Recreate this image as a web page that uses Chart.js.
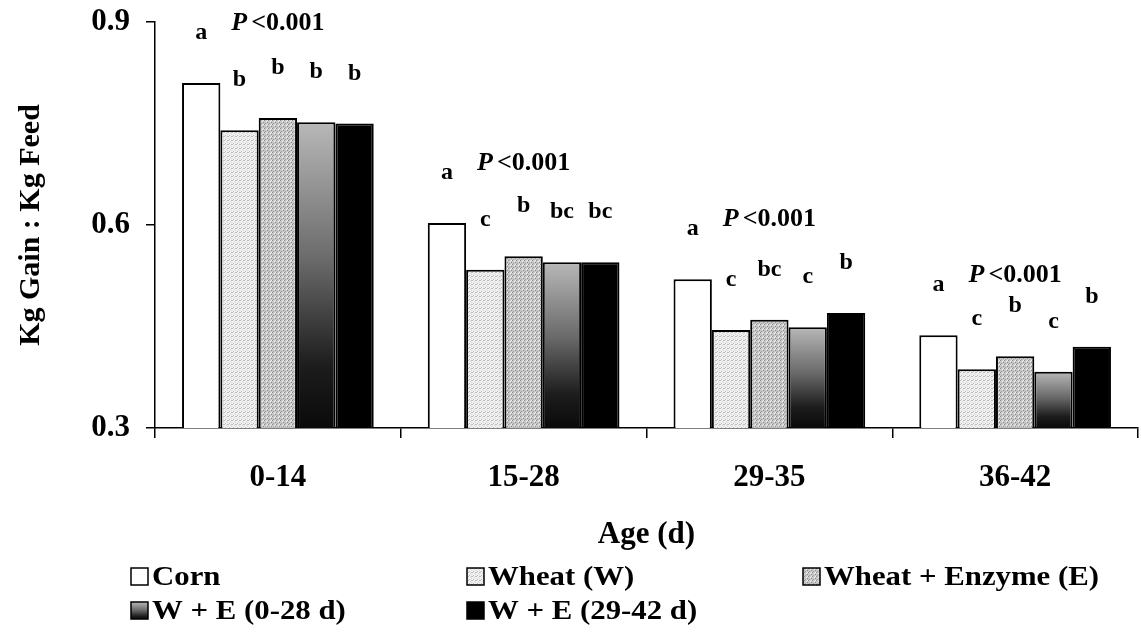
<!DOCTYPE html>
<html lang="en">
  <head>
    <meta charset="UTF-8" />
    <title>Kg Gain : Kg Feed</title>
    <style>
      body {
        margin: 0;
        background: #fff;
      }
      .wrap {
        width: 1141px;
        height: 632px;
      }
    </style>
  </head>
  <body>
    <script src="https://cdn.jsdelivr.net/npm/chart.js@4.4.1/dist/chart.umd.min.js"></script>

    <div class="wrap">
      <canvas id="bar-chart" width="1141" height="632"></canvas>
    </div>
    <script>
      const ages = ["0-14", "15-28", "29-35", "36-42"];
      const yTicks = [0.3, 0.6, 0.9];

      const corn = [0.81, 0.603, 0.52, 0.437];
      const wheat = [0.74, 0.534, 0.445, 0.387];
      const wheatEnz = [0.758, 0.554, 0.46, 0.406];
      const we028 = [0.752, 0.545, 0.449, 0.383];
      const we2942 = [0.75, 0.545, 0.47, 0.42];

      // significance letters per bar
      const cornSig = ["a", "a", "a", "a"];
      const wheatSig = ["b", "c", "c", "c"];
      const wheatEnzSig = ["b", "b", "bc", "b"];
      const we028Sig = ["b", "bc", "c", "c"];
      const we2942Sig = ["b", "bc", "b", "b"];
      const pText = ["<0.001", "<0.001", "<0.001", "<0.001"];

      const FONT = "'Liberation Serif', 'Times New Roman', serif";

      function speckle(base, dots) {
        const c = document.createElement("canvas");
        c.width = 4;
        c.height = 4;
        const g = c.getContext("2d");
        g.fillStyle = base;
        g.fillRect(0, 0, 4, 4);
        const spots = [[0, 0], [2, 1], [1, 3], [3, 2], [3, 0]];
        spots.forEach((p, i) => {
          g.fillStyle = dots[i % dots.length];
          g.fillRect(p[0], p[1], 1, 1);
        });
        return g.createPattern(c, "repeat");
      }

      const wheatFill = speckle("#f0f0f0", ["#bcbcbc", "#dadada"]);
      const enzFill = speckle("#c8c8c8", ["#8c8c8c", "#eeeeee", "#a4a4a4"]);

      function darkGrad(c, top, bot) {
        const g = c.createLinearGradient(0, top, 0, bot);
        g.addColorStop(0, "#b8b8b8");
        g.addColorStop(0.45, "#6a6a6a");
        g.addColorStop(0.8, "#1c1c1c");
        g.addColorStop(1, "#0a0a0a");
        return g;
      }

      function we028Fill(ctx) {
        const chart = ctx.chart;
        if (!chart.chartArea || ctx.raw === undefined) return "#666";
        const y = chart.scales.y;
        return darkGrad(chart.ctx, y.getPixelForValue(ctx.raw), y.getPixelForValue(y.min));
      }

      const sigs = [cornSig, wheatSig, wheatEnzSig, we028Sig, we2942Sig];

      const annotate = {
        id: "annotate",
        afterDatasetsDraw(chart) {
          const c = chart.ctx;
          c.save();
          c.fillStyle = "#000";
          c.textAlign = "center";
          c.textBaseline = "middle";
          c.font = "bold 24px " + FONT;
          sigs.forEach((arr, di) => {
            chart.getDatasetMeta(di).data.forEach((bar, j) => {
              c.fillText(arr[j], bar.x, bar.y - 50);
            });
          });
          // P value over each group
          const xs = chart.scales.x;
          ages.forEach((a, j) => {
            let top = Infinity;
            sigs.forEach((arr, di) => {
              top = Math.min(top, chart.getDatasetMeta(di).data[j].y);
            });
            const cx = xs.getPixelForValue(j);
            const cy = top - 60;
            c.font = "bold italic 26px " + FONT;
            const wP = c.measureText("P").width + 4;
            c.font = "bold 26px " + FONT;
            const wR = c.measureText(pText[j]).width;
            const x0 = cx - (wP + wR) / 2;
            c.textAlign = "left";
            c.font = "bold italic 26px " + FONT;
            c.fillText("P", x0, cy);
            c.font = "bold 26px " + FONT;
            c.fillText(pText[j], x0 + wP, cy);
            c.textAlign = "center";
          });

          // legend, 3 columns (text a little wider, like the scan)
          const cols = [131, 467, 803];
          const rows = [577, 611];
          c.font = "bold 28px " + FONT;
          c.textAlign = "left";
          chart.data.datasets.forEach((ds, i) => {
            const x = cols[i % 3];
            const y = rows[Math.floor(i / 3)];
            let fill = ds.backgroundColor;
            if (typeof fill === "function") fill = darkGrad(c, y - 9, y + 9);
            c.fillStyle = fill;
            c.fillRect(x, y - 9, 17, 17);
            c.strokeStyle = "#000";
            c.lineWidth = 1.5;
            c.strokeRect(x, y - 9, 17, 17);
            c.fillStyle = "#000";
            c.save();
            c.translate(x + 21, y + 1);
            c.scale(1.1, 1);
            c.fillText(ds.label, 0, 0);
            c.restore();
          });
          c.restore();
        }
      };

      new Chart(document.getElementById("bar-chart"), {
        type: "bar",
        data: {
          labels: ages,
          datasets: [
            { label: "Corn", data: corn, backgroundColor: "#ffffff" },
            { label: "Wheat (W)", data: wheat, backgroundColor: wheatFill },
            { label: "Wheat + Enzyme (E)", data: wheatEnz, backgroundColor: enzFill },
            { label: "W + E (0-28 d)", data: we028, backgroundColor: we028Fill },
            { label: "W + E (29-42 d)", data: we2942, backgroundColor: "#000000" }
          ]
        },
        options: {
          responsive: false,
          animation: false,
          layout: { padding: { left: 13, top: 22, right: 3, bottom: 78 } },
          datasets: {
            bar: {
              borderColor: "#000",
              borderWidth: 2,
              categoryPercentage: 0.78,
              barPercentage: 1.0
            }
          },
          plugins: {
            legend: { display: false },
            tooltip: { enabled: false }
          },
          scales: {
            x: {
              grid: {
                display: true,
                drawOnChartArea: false,
                offset: true,
                color: "#000",
                lineWidth: 1.5,
                tickLength: 10
              },
              border: { display: true, color: "#000", width: 1.5 },
              ticks: {
                color: "#000",
                padding: 21,
                font: { family: FONT, size: 31, weight: "bold" }
              },
              title: {
                display: true,
                text: "Age (d)",
                color: "#000",
                padding: { top: 0, bottom: 0 },
                font: { family: FONT, size: 31, weight: "bold" }
              },
              afterFit(scale) {
                scale.height = 126;
              }
            },
            y: {
              min: 0.3,
              max: 0.9,
              afterBuildTicks(scale) {
                scale.ticks = yTicks.map(v => ({ value: v }));
              },
              grid: {
                display: true,
                drawOnChartArea: false,
                color: "#000",
                lineWidth: 1.5,
                tickLength: 9
              },
              border: { display: true, color: "#000", width: 1.5 },
              ticks: {
                color: "#000",
                padding: 16,
                callback: v => v.toFixed(1),
                font: { family: FONT, size: 31, weight: "bold" }
              },
              title: {
                display: true,
                text: "Kg Gain : Kg Feed",
                color: "#000",
                padding: { top: 0, bottom: 0 },
                font: { family: FONT, size: 30, weight: "bold" }
              },
              afterFit(scale) {
                scale.width = 142;
                scale.paddingTop = 0;
                scale.paddingBottom = 0;
              }
            }
          }
        },
        plugins: [annotate]
      });
    </script>
  </body>
</html>
